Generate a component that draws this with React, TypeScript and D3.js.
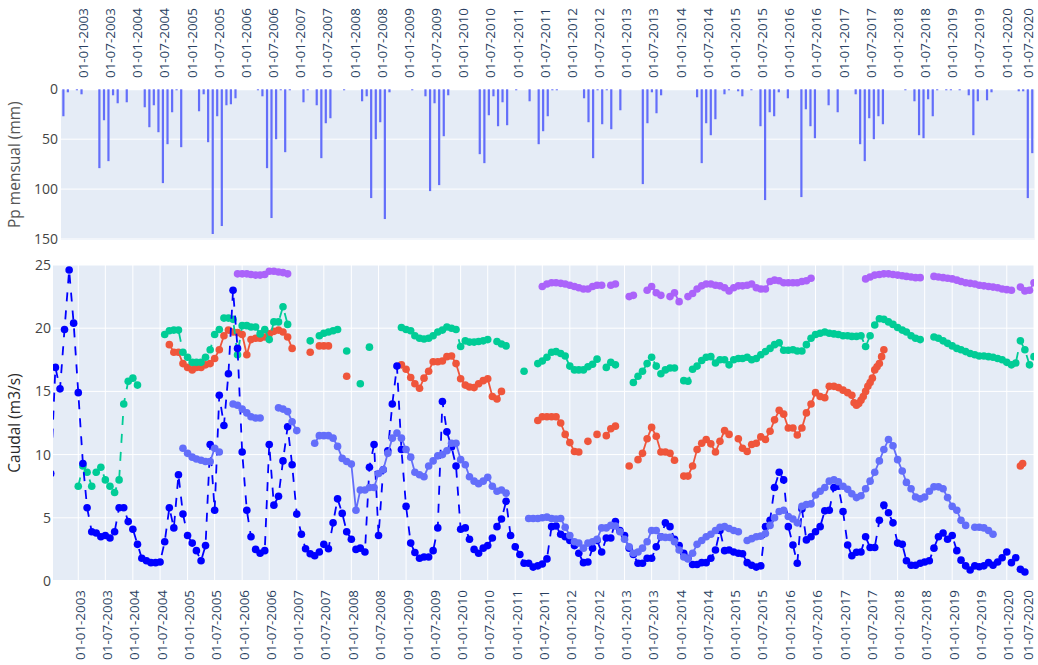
import React, { useRef, useEffect } from 'react';
import * as d3 from 'd3';

// monthly precipitation (mm), one bar per month starting 2002-09
const ppStart = '2002-09';
const ppValues = [
  27, 3, 0, 1, 5, 0, 0, 0, 79, 31,
  72, 6, 14, 0, 13, 0, 0, 0, 18, 38,
  16, 43, 94, 55, 23, 1, 58, 0, 0, 0,
  22, 5, 53, 145, 27, 137, 16, 15, 9, 0,
  0, 0, 0, 1, 7, 79, 129, 50, 1, 63,
  1, 0, 0, 13, 1, 0, 16, 69, 34, 29,
  0, 0, 1, 0, 0, 0, 12, 7, 109, 50,
  33, 130, 3, 0, 0, 0, 0, 1, 0, 0,
  7, 102, 14, 96, 47, 6, 0, 0, 0, 0,
  0, 0, 65, 74, 26, 7, 37, 13, 36, 0,
  1, 0, 0, 12, 0, 55, 42, 27, 1, 1,
  0, 0, 0, 0, 0, 9, 33, 69, 1, 35,
  1, 40, 0, 21, 0, 0, 0, 0, 95, 34,
  3, 24, 6, 0, 0, 0, 0, 0, 0, 0,
  8, 74, 34, 46, 30, 0, 5, 1, 0, 2,
  7, 0, 1, 0, 37, 111, 23, 27, 3, 0,
  9, 0, 0, 108, 20, 37, 49, 0, 0, 16,
  0, 23, 0, 0, 0, 5, 55, 72, 29, 50,
  27, 35, 0, 0, 0, 0, 1, 0, 12, 46,
  49, 10, 27, 1, 0, 1, 1, 0, 1, 0,
  6, 46, 12, 0, 11, 3, 0, 0, 0, 0,
  0, 2, 2, 109, 64,
];

// discharge series (m3/s), monthly unless noted, null = no data
const blueStart = '2002-07';
const blueValues = [
  8.5, 16.9, 15.2, 19.9, 24.6, 20.4, 14.9, 9.3, 5.8, 3.9,
  3.8, 3.5, 3.6, 3.4, 3.9, 5.8, 5.8, 4.7, 4.1, 2.9,
  1.8, 1.6, 1.45, 1.45, 1.5, 3.1, 5.8, 4.2, 8.4, 5.3,
  3.6, 3.0, 2.4, 1.6, 2.8, 10.8, 5.6, 14.7, 12.3, 16.4,
  23.0, 18.4, 10.2, 5.6, 3.5, 2.5, 2.2, 2.4, 10.8, 6.0,
  6.7, 9.5, 12.2, 9.2, 5.3, 3.7, 2.55, 2.15, 2.0, 2.3,
  2.9, 2.55, 4.6, 6.5, 5.35, 3.9, 3.3, 2.5, 2.6, 2.3,
  9.0, 10.8, 3.6, 8.8, 10.3, 14.0, 17.0, 10.4, 5.9, 3.0,
  2.25, 1.8, 1.9, 1.9, 2.4, 4.2, 14.2, 11.8, 10.6, 9.1,
  4.1, 4.2, 3.3, 2.5, 2.2, 2.6, 2.8, 3.4, 4.3, 4.9,
  6.3, 3.6, 2.7, 2.1, 1.4, 1.4, 1.1, 1.2, 1.35, 1.75,
  4.3, 4.35, 3.7, 3.5, 3.2, 2.8, 2.2, 1.45, 1.5, 2.6,
  3.2, 2.3, 3.4, 3.4, 4.7, 4.0, 3.6, 2.6, 2.1, 1.4,
  1.4, 1.8, 1.8, 2.7, 3.5, 4.6, 4.3, 3.3, 2.8, 2.2,
  1.8, 1.3, 1.3, 1.45, 1.45, 1.8, 2.45, 4.0, 2.4, 2.45,
  2.3, 2.2, 2.15, 1.45, 1.25, 1.1, 1.2, 4.3, 4.8, 7.4,
  8.6, 8.0, 4.3, 2.85, 1.4, 5.7, 3.25, 3.5, 3.9, 4.3,
  5.55, 5.6, 7.4, 7.5, 5.5, 2.85, 2.0, 2.27, 2.3, 3.5,
  2.65, 2.65, 4.8, 6.0, 5.4, 4.6, 3.0, 2.9, 1.6, 1.25,
  1.25, 1.4, 1.5, 1.6, 2.6, 3.5, 3.8, 3.3, 3.6, 2.4,
  1.65, 1.2, 0.87, 1.2, 1.13, 1.2, 1.45, 1.25, 1.5, 1.84,
  2.3, 1.45, 1.84, 0.92, 0.71,
];

const lightStart = '2004-12';
const lightValues = [
  10.5, 10.1, 9.8, 9.65, 9.55, 9.45, 9.45, 10.5, 10.2, null,
  null, 14.0, 13.9, 13.6, 13.3, 13.0, 12.9, 12.9, null, null,
  null, 13.7, 13.6, 13.4, 12.6, 11.9, null, null, null, 10.9,
  11.5, 11.5, 11.5, 11.3, 10.65, 9.7, 9.45, 9.25, 5.6, 7.2,
  7.2, 7.4, 7.4, 8.5, 8.8, 10.1, 11.3, 11.7, 11.3, 10.4,
  9.8, 8.6, 8.4, 8.25, 9.1, 9.5, 9.9, 10.0, 10.3, 10.9,
  10.9, 9.6, 9.2, 8.25, 7.9, 7.7, 7.9, 8.2, 7.5, 7.1,
  7.2, 6.95, null, null, null, null, 4.95, 4.95, 4.95, 5.0,
  5.05, 4.95, 4.9, 4.95, 4.25, 3.6, 3.1, 3.0, 2.6, 3.0,
  3.1, 3.3, 4.2, 4.2, 4.4, 4.35, 3.9, 3.3, 2.7, 2.2,
  2.3, 2.6, 3.1, 4.0, 4.0, 3.5, 3.45, 3.45, 3.1, 2.45,
  1.9, 1.75, 2.2, 2.9, 3.2, 3.5, 3.7, 4.0, 4.25, 4.3,
  4.15, 4.0, 3.9, null, 3.2, 3.35, 3.5, 3.55, 3.75, 4.4,
  5.0, 5.5, 5.6, 5.1, 4.9, 4.6, 5.9, 6.05, 6.1, 6.8,
  7.1, 7.4, 7.9, 8.0, 7.85, 7.5, 7.25, 6.9, 6.6, 6.75,
  7.3, 7.9, 8.6, 9.5, 10.4, 11.2, 10.7, 9.6, 8.7, 7.8,
  7.3, 6.65, 6.5, 6.65, 7.1, 7.45, 7.45, 7.3, 6.6, 5.9,
  5.6, 4.8, 4.4, null, 4.25, 4.25, 4.2, 4.0, 3.7,
];

const greenStart = '2003-01';
const greenValues = [
  7.5, 9.1, 8.6, 7.5, 8.6, 9.0, 8.0, 7.5, 7.0, 8.0,
  14.0, 15.8, 16.05, 15.5, null, null, null, null, null, 19.5,
  19.8, 19.85, 19.85, 18.1, 17.7, 17.3, 17.3, 17.3, 17.7, 18.3,
  19.5, 19.9, 20.8, 20.8, 20.7, 17.9, 20.2, 20.2, 20.1, 20.1,
  19.55, 19.9, 19.1, 20.5, 20.5, 21.7, 20.3, null, null, null,
  null, 19.0, null, 19.4, 19.6, 19.7, 19.8, 19.9, null, 18.2,
  null, null, 15.6, null, 18.5, null, null, null, null, null,
  null, 20.05, 19.9, 19.8, 19.4, 19.2, 19.15, 19.2, 19.4, 19.7,
  19.85, 20.1, 20.0, 19.9, 18.55, 19.0, 18.9, 18.9, 18.95, 19.0,
  19.1, null, 18.95, 18.75, 18.6, null, null, null, 16.6, null,
  null, 17.2, 17.4, 17.7, 18.1, 18.15, 18.0, 17.8, 17.0, 16.7,
  16.7, 16.7, 16.95, 17.15, 17.55, null, 16.9, 17.3, 17.1, null,
  null, null, 15.7, 16.2, 16.6, 17.2, 17.7, 17.0, 16.4, 16.7,
  16.85, 16.85, null, 15.85, 15.8, 16.75, 17.0, 17.45, 17.7, 17.75,
  17.25, 17.5, 17.5, 17.1, 17.5, 17.6, 17.6, 17.7, 17.5, 17.6,
  17.9, 18.15, 18.4, 18.7, 18.85, 18.25, 18.25, 18.3, 18.2, 18.2,
  18.7, 19.2, 19.5, 19.6, 19.7, 19.6, 19.55, 19.5, 19.4, 19.4,
  19.35, 19.35, 19.4, 18.55, 19.4, 20.25, 20.75, 20.7, 20.5, 20.3,
  20.05, 19.85, 19.7, 19.4, 19.2, 19.1, null, null, 19.3, 19.2,
  19.0, 18.8, 18.6, 18.4, 18.3, 18.15, 18.0, 17.9, 17.8, 17.8,
  17.75, 17.7, 17.6, 17.5, 17.3, 17.1, 17.25, 19.0, 18.3, 17.1,
  17.75,
];

const redStart = '2004-09';
const redValues = [
  18.7, 18.1, 18.1, 17.2, 16.9, 16.7, 16.9, 16.9, 17.1, 17.2,
  17.6, 18.3, 19.4, 19.85, 19.7, 19.65, 19.5, 17.9, 19.1, 19.2,
  19.2, 19.3, 19.55, 19.75, 19.85, 19.7, 19.3, 18.4, null, null,
  null, 18.1, null, 18.6, 18.6, 18.6, null, null, null, 16.2,
  null, null, null, null, null, null, null, null, null, null,
  null, 17.1, 16.75, 16.1, 15.6, 15.25, 16.05, 16.6, 17.35, 17.35,
  17.4, 17.75, 17.8, 17.2, 16.0, 15.5, 15.35, 15.3, 15.6, 15.85,
  16.0, 14.6, 14.4, 15.0, null, null, null, null, null, null,
  null, 12.7, 13.0, 13.0, 13.0, 13.0, 12.5, 11.6, 10.95, 10.25,
  10.2, null, 11.05, null, 11.6, null, 11.5, 12.05, 12.25, null,
  null, 9.1, null, 9.6, 10.1, 11.25, 12.15, 11.45, 10.2, 10.2,
  10.1, 9.55, null, 8.3, 8.3, 9.1, 10.4, 10.9, 11.2, 10.85,
  10.2, 11.05, 11.9, 11.6, null, 11.25, 10.5, 10.25, 10.8, 10.9,
  11.4, 11.2, 11.85, 12.75, 13.5, 13.2, 12.1, 12.1, 11.55, 12.1,
  13.3, 14.0, 14.9, 14.6, 14.5, 15.4, 15.4, 15.3, 15.1, 14.9,
];
// denser records (every half month)
const redTailStart = '2017-03';
const redTailValues = [
  14.7, 14.1, 13.9, 14.05, 14.3, 14.6, 15.0, 15.4, 15.7, 16.05,
  16.7, 16.95, 17.2, 17.75, 18.3,
];
const redEndStart = '2020-04';
const redEndValues = [9.1, 9.3];

const purpleStart = '2005-12';
const purpleValues = [
  24.3, 24.3, 24.3, 24.25, 24.2, 24.2, 24.25, 24.5, 24.5, 24.45,
  24.4, 24.3, ...Array(55).fill(null),
  23.3, 23.5, 23.6, 23.6, 23.55, 23.5, 23.4, 23.3, 23.2, 23.1,
  23.1, 23.3, 23.4, 23.4, null, 23.4, 23.5, null, null, 22.5,
  22.6, null, null, 23.0, 23.3, 22.8, 22.6, null, 22.5, 22.8,
  22.1, null, 22.5, 22.75, 23.1, 23.35, 23.5, 23.5, 23.4, 23.35,
  23.2, 22.95, 23.2, 23.35, 23.35, 23.4, 23.5, 23.2, 23.1, 23.1,
  23.7, 23.8, 23.75, 23.6, 23.6, 23.6, 23.6, 23.7, 23.75, 23.95,
  null, null, null, null, null, null, null, null, null, null,
  null, 23.9, 24.05, 24.2, 24.25, 24.3, 24.3, 24.25, 24.2, 24.15,
  24.1, 24.05, 24.0, 24.0, null, null, 24.1, 24.05, 24.0, 23.95,
  23.9, 23.8, 23.7, 23.6, 23.55, 23.5, 23.4, 23.35, 23.3, 23.25,
  23.2, 23.1, 23.05, 23.0, null, 23.25, 22.95, 23.0, 23.6,
];

type Pt = { d: Date; v: number | null };

const toPoints = (start: string, values: (number | null)[], step = 1): Pt[] => {
  const [y, m] = start.split('-').map(Number);
  return values.map((v, i) => {
    const off = i * step;
    const whole = Math.floor(off);
    const day = 1 + Math.round((off - whole) * 30);
    return { d: new Date(y, m - 1 + whole, day), v };
  });
};

const App = () => {
  const svgRef = useRef<SVGSVGElement>(null);

  useEffect(() => {
    const svg = d3.select(svgRef.current);
    svg.selectAll('*').remove();

    const tickColor = '#2a3f5f';
    const axisColor = '#444';

    // top panel: precipitation
    const top = { x0: 61, x1: 1034.5, y0: 89.3, y1: 240 };
    const xTop = d3.scaleTime()
      .domain([new Date(2002, 7, 16), new Date(2020, 6, 16)])
      .range([top.x0, top.x1]);
    const yTop = d3.scaleLinear().domain([0, 151]).range([top.y0, top.y1]);

    // bottom panel: discharge
    const bot = { x0: 53, x1: 1034, y0: 265, y1: 581 };
    const xBot = d3.scaleTime()
      .domain([new Date(2002, 6, 16), new Date(2020, 6, 1)])
      .range([bot.x0, bot.x1]);
    const yBot = d3.scaleLinear().domain([0, 25]).range([bot.y1, bot.y0]);

    svg.append('rect').attr('width', 1038).attr('height', 665).attr('fill', '#fff');

    // --- top panel ---
    svg.append('rect')
      .attr('x', top.x0).attr('y', top.y0)
      .attr('width', top.x1 - top.x0).attr('height', top.y1 - top.y0)
      .attr('fill', '#e5ecf6');

    const gTop = svg.append('g');
    yTop.ticks(3).forEach(t => {
      gTop.append('line')
        .attr('x1', top.x0).attr('x2', top.x1)
        .attr('y1', yTop(t)).attr('y2', yTop(t))
        .attr('stroke', '#fff').attr('stroke-width', t === 0 ? 2 : 1);
      gTop.append('text')
        .attr('x', 58).attr('y', yTop(t)).attr('dy', '0.35em')
        .attr('text-anchor', 'end')
        .attr('font-size', 14).attr('fill', axisColor)
        .text(t);
    });

    const bars = toPoints(ppStart, ppValues);
    gTop.selectAll('rect.bar')
      .data(bars)
      .enter().append('rect')
      .attr('class', 'bar')
      .attr('x', d => xTop(d.d) - 1.1)
      .attr('y', yTop(0))
      .attr('width', 2.2)
      .attr('height', d => yTop(d.v as number) - yTop(0))
      .attr('fill', '#636efa');

    // rightmost label is pulled in a little so it stays inside the page
    const fmt = d3.timeFormat('%d-%m-%Y');
    xTop.ticks(d3.timeMonth.every(6)).forEach(t => {
      gTop.append('text')
        .attr('transform', `translate(${Math.min(xTop(t) + 1.8, 1028)},78) rotate(-90)`)
        .attr('dy', '0.35em')
        .attr('text-anchor', 'start')
        .attr('font-size', 13.4).attr('fill', tickColor)
        .text(fmt(t));
    });

    gTop.append('text')
      .attr('transform', `translate(15,${(top.y0 + top.y1) / 2}) rotate(-90)`)
      .attr('dy', '0.35em')
      .attr('text-anchor', 'middle')
      .attr('font-size', 15.5).attr('fill', '#555')
      .text('Pp mensual (mm)');

    // --- bottom panel ---
    svg.append('rect')
      .attr('x', bot.x0).attr('y', bot.y0)
      .attr('width', bot.x1 - bot.x0).attr('height', bot.y1 - bot.y0)
      .attr('fill', '#e5ecf6');

    const gBot = svg.append('g');
    xBot.ticks(d3.timeMonth.every(6)).forEach(t => {
      gBot.append('line')
        .attr('x1', xBot(t)).attr('x2', xBot(t))
        .attr('y1', bot.y0).attr('y2', bot.y1)
        .attr('stroke', '#fff').attr('stroke-width', 1);
      gBot.append('text')
        .attr('transform', `translate(${Math.min(xBot(t) + 1.8, 1028)},590) rotate(-90)`)
        .attr('dy', '0.35em')
        .attr('text-anchor', 'end')
        .attr('font-size', 13.4).attr('fill', tickColor)
        .text(fmt(t));
    });
    yBot.ticks(5).forEach(t => {
      gBot.append('line')
        .attr('x1', bot.x0).attr('x2', bot.x1)
        .attr('y1', yBot(t)).attr('y2', yBot(t))
        .attr('stroke', '#fff').attr('stroke-width', t === 0 ? 2 : 1);
      gBot.append('text')
        .attr('x', 51).attr('y', yBot(t)).attr('dy', '0.35em')
        .attr('text-anchor', 'end')
        .attr('font-size', 14).attr('fill', axisColor)
        .text(t);
    });

    gBot.append('text')
      .attr('transform', `translate(15,${(bot.y0 + bot.y1) / 2}) rotate(-90)`)
      .attr('dy', '0.35em')
      .attr('text-anchor', 'middle')
      .attr('font-size', 15.5).attr('fill', '#2b2b2b')
      .text('Caudal (m3/s)');

    svg.append('clipPath').attr('id', 'clipBot')
      .append('rect')
      .attr('x', bot.x0).attr('y', bot.y0)
      .attr('width', bot.x1 - bot.x0).attr('height', bot.y1 - bot.y0);

    const plot = svg.append('g').attr('clip-path', 'url(#clipBot)');
    const line = d3.line<Pt>()
      .defined(d => d.v != null)
      .x(d => xBot(d.d))
      .y(d => yBot(d.v as number));

    const series = [
      { pts: [toPoints(redStart, redValues), toPoints(redTailStart, redTailValues, 0.5), toPoints(redEndStart, redEndValues, 0.5)], color: '#EF553B', dash: null },
      { pts: [toPoints(greenStart, greenValues)], color: '#00cc96', dash: '9,9' },
      { pts: [toPoints(purpleStart, purpleValues)], color: '#ab63fa', dash: null },
      { pts: [toPoints(blueStart, blueValues)], color: '#0000ff', dash: '9,9' },
      { pts: [toPoints(lightStart, lightValues)], color: '#636efa', dash: null },
    ];

    series.forEach(s => {
      s.pts.forEach(pts => {
        plot.append('path')
          .datum(pts)
          .attr('d', line)
          .attr('fill', 'none')
          .attr('stroke', s.color)
          .attr('stroke-width', 1.8)
          .attr('stroke-dasharray', s.dash);
      });
      s.pts.forEach(pts => {
        plot.selectAll(null)
          .data(pts.filter(d => d.v != null))
          .enter().append('circle')
          .attr('cx', d => xBot(d.d))
          .attr('cy', d => yBot(d.v as number))
          .attr('r', 3.8)
          .attr('fill', s.color);
      });
    });
  }, []);

  return (
    <svg
      ref={svgRef}
      width={1038}
      height={665}
      style={{ position: 'absolute', left: 0, top: 0, fontFamily: '"Open Sans", verdana, arial, sans-serif' }}
    />
  );
};

export default App;
